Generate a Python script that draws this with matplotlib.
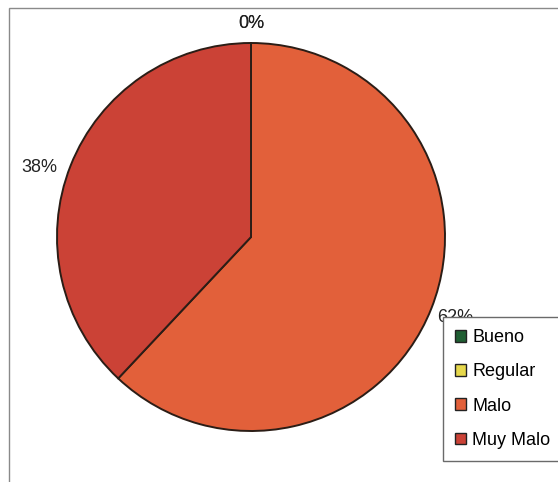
import matplotlib.pyplot as plt
import matplotlib.patches as mpatches

categorias = ['Bueno', 'Regular', 'Malo', 'Muy Malo']
valores = [0, 0, 62, 38]
colores = ['#1F5E32', '#E6D84C', '#E2603A', '#CB4236']

plt.rcParams['font.family'] = ['Liberation Sans', 'DejaVu Sans']

fig = plt.figure(figsize=(5.58, 4.82), dpi=100)
W, H = 558, 482

# outer chart frame (its right and bottom edges run off the image)
fig.patches.append(mpatches.Rectangle((9 / W, -0.05), 1.1, 1 - 8 / H + 0.05,
                                      transform=fig.transFigure, fill=False,
                                      edgecolor='#8a8a8a', linewidth=1.0))

cx, cy, r = 251, 237, 194
ax = fig.add_axes([(cx - r) / W, 1 - (cy + r) / H, 2 * r / W, 2 * r / H])
wedges, texts, autotexts = ax.pie(
    valores, colors=colores, startangle=90, counterclock=False,
    autopct='%1.0f%%', pctdistance=1.13, radius=1,
    wedgeprops=dict(edgecolor='#2b1d16', linewidth=1.4),
    textprops=dict(fontsize=13, color='#222222'))
# lower the zero labels and the left label a little
autotexts[0].set_y(autotexts[0].get_position()[1] - 0.03)
autotexts[1].set_y(autotexts[1].get_position()[1] - 0.03)
autotexts[3].set_x(autotexts[3].get_position()[0] - 0.04)
autotexts[3].set_y(autotexts[3].get_position()[1] - 0.06)
ax.set_xlim(-1, 1)
ax.set_ylim(-1, 1)
ax.set_aspect('equal')
ax.axis('off')

handles = [mpatches.Patch(facecolor=c, edgecolor='#222222', linewidth=1.0)
           for c in colores]
leg = fig.legend(handles, categorias, loc='upper left',
                 bbox_to_anchor=(443 / W, 1 - 317 / H), borderaxespad=0,
                 fancybox=False, fontsize=13, handlelength=0.6,
                 handleheight=0.6, handletextpad=0.35, labelspacing=0.95,
                 borderpad=0.68, framealpha=1)
leg.get_frame().set_edgecolor('#6a6a6a')
leg.get_frame().set_linewidth(1.0)
leg.set_zorder(10)

fig.savefig('out.png', dpi=100)
